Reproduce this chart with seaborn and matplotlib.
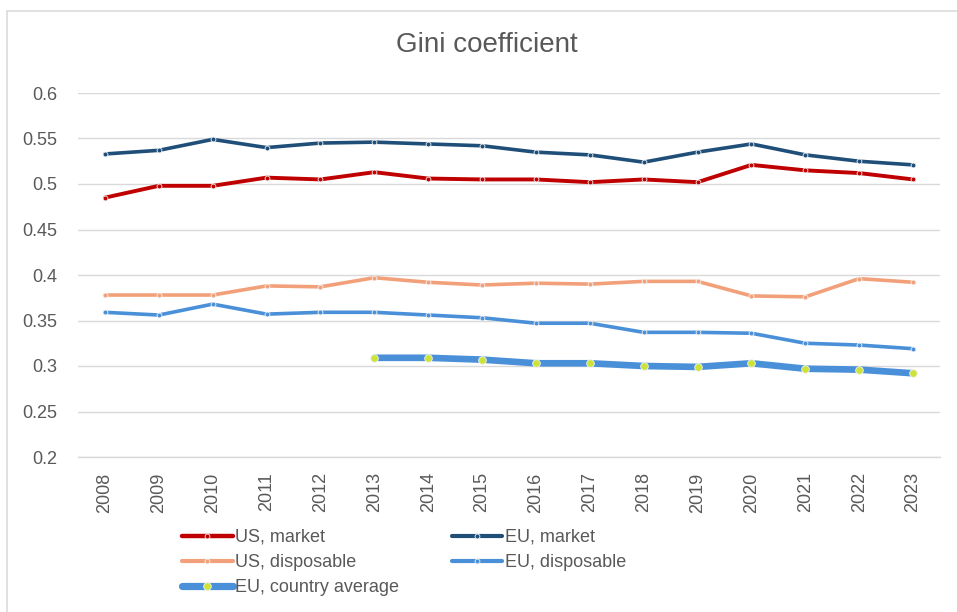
import matplotlib
matplotlib.use("Agg")
import matplotlib.pyplot as plt
from matplotlib.lines import Line2D
import seaborn as sns

years = list(range(2008, 2024))
us_market = [0.485, 0.498, 0.498, 0.507, 0.505, 0.513, 0.506, 0.505,
             0.505, 0.502, 0.505, 0.502, 0.521, 0.515, 0.512, 0.505]
eu_market = [0.533, 0.537, 0.549, 0.540, 0.545, 0.546, 0.544, 0.542,
             0.535, 0.532, 0.524, 0.535, 0.544, 0.532, 0.525, 0.521]
us_disposable = [0.378, 0.378, 0.378, 0.388, 0.387, 0.397, 0.392, 0.389,
                 0.391, 0.390, 0.393, 0.393, 0.377, 0.376, 0.396, 0.392]
eu_disposable = [0.359, 0.356, 0.368, 0.357, 0.359, 0.359, 0.356, 0.353,
                 0.347, 0.347, 0.337, 0.337, 0.336, 0.325, 0.323, 0.319]
avg_years = list(range(2013, 2024))
eu_country_avg = [0.309, 0.309, 0.307, 0.303, 0.303, 0.300, 0.299, 0.303,
                  0.297, 0.296, 0.292]

y_ticks = [0.2, 0.25, 0.3, 0.35, 0.4, 0.45, 0.5, 0.55, 0.6]
y_tick_labels = ["0.2", "0.25", "0.3", "0.35", "0.4", "0.45", "0.5", "0.55", "0.6"]

sns.set_theme(style="white")
plt.rcParams["font.family"] = ["Liberation Sans", "DejaVu Sans"]

TEXT = "#595959"
GRID = "#d9d9d9"

fig = plt.figure(figsize=(9.57, 6.12), dpi=100)
ax = fig.add_axes([78 / 957, 1 - 457 / 612, (940 - 78) / 957, (457 - 93) / 612])

series = {
    "US, market": (years, us_market, "#c00000", 2.8, 3.5, "#c00000"),
    "EU, market": (years, eu_market, "#1f4e79", 2.6, 3.5, "#1f4e79"),
    "US, disposable": (years, us_disposable, "#f2a07a", 2.6, 3.5, "#f2a07a"),
    "EU, disposable": (years, eu_disposable, "#4a90d9", 2.6, 3.5, "#4a90d9"),
    "EU, country average": (avg_years, eu_country_avg, "#4a90d9", 4.8, 5.5, "#cde33c"),
}

handles = {}
for label, (xs, ys, color, lw, ms, mfc) in series.items():
    sns.lineplot(x=xs, y=ys, ax=ax, color=color, linewidth=lw,
                 marker="o", markersize=ms, markerfacecolor=mfc,
                 markeredgecolor="#f2f2f2", markeredgewidth=0.6,
                 solid_capstyle="round", label=label, legend=False)
    handles[label] = Line2D([], [], color=color, linewidth=lw + 0.4, marker="o",
                            markersize=ms, markerfacecolor=mfc,
                            markeredgecolor="#f2f2f2", markeredgewidth=0.6,
                            label=label)

ax.set_xlim(2007.5, 2023.5)
ax.set_ylim(0.2, 0.6)
ax.set_yticks(y_ticks)
ax.set_yticklabels(y_tick_labels)
ax.set_xticks(years)
ax.set_xticklabels([str(y) for y in years], rotation=90)
ax.tick_params(axis="both", length=0, labelsize=13, colors=TEXT)
ax.tick_params(axis="y", pad=15)
ax.tick_params(axis="x", pad=11)
ax.set_xlabel("")
ax.set_ylabel("")
ax.grid(axis="y", color=GRID, linewidth=1.0)
ax.set_axisbelow(True)
for side in ["top", "right", "left"]:
    ax.spines[side].set_visible(False)
ax.spines["bottom"].set_color(GRID)
ax.spines["bottom"].set_linewidth(1.0)

fig.text(487 / 957, 1 - 45 / 612, "Gini coefficient", ha="center", va="center",
         fontsize=20, color=TEXT)

# legend fills column by column: left column first, then right column
legend_order = ["US, market", "US, disposable", "EU, country average",
                "EU, market", "EU, disposable"]
fig.legend(handles=[handles[k] for k in legend_order], loc="upper left",
           bbox_to_anchor=(182 / 957, 1 - 529 / 612), ncol=2, frameon=False,
           fontsize=13, labelcolor=TEXT, handlelength=2.8, handletextpad=0.15,
           columnspacing=2.9, labelspacing=0.45, borderpad=0, borderaxespad=0)

# light outer frame of the chart area
fig.add_artist(Line2D([7 / 957, 7 / 957], [0, 1 - 11 / 612], color="#dcdcdc",
                      linewidth=1.2, transform=fig.transFigure))
fig.add_artist(Line2D([7 / 957, 1], [1 - 11 / 612, 1 - 11 / 612], color="#dcdcdc",
                      linewidth=1.2, transform=fig.transFigure))

fig.savefig("out.png", dpi=100)
